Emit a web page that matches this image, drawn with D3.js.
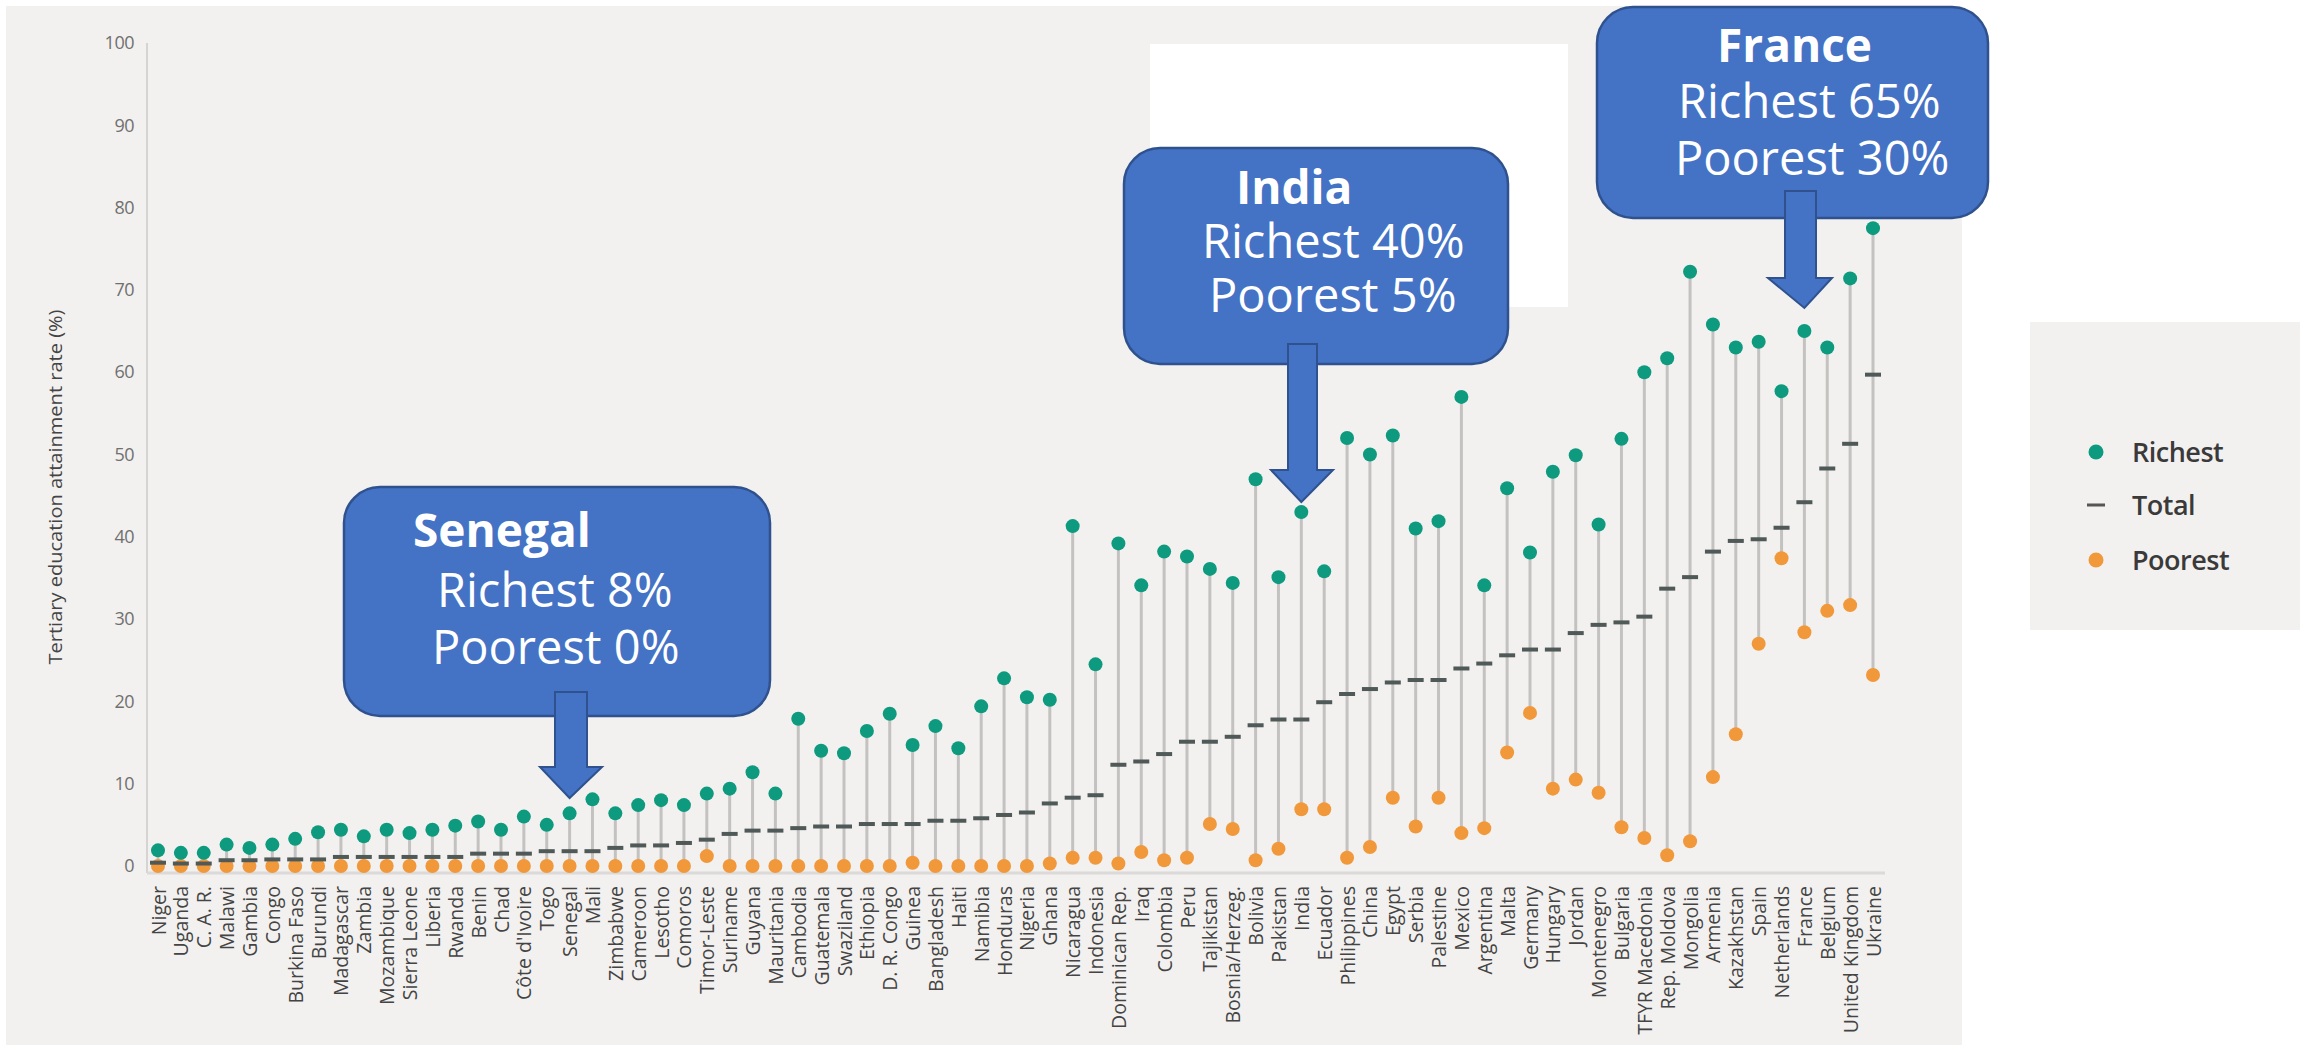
<!DOCTYPE html>
<html>
<head>
<meta charset="utf-8">
<script src="https://cdn.jsdelivr.net/npm/d3@7"></script>
<style>
  html, body { margin: 0; padding: 0; background: #ffffff; }
  svg { display: block; }
</style>
</head>
<body>
<svg id="chart" width="2313" height="1046"></svg>
<script>
const countries = ["Niger","Uganda","C. A. R.","Malawi","Gambia","Congo","Burkina Faso","Burundi","Madagascar","Zambia","Mozambique","Sierra Leone","Liberia","Rwanda","Benin","Chad","Côte d'Ivoire","Togo","Senegal","Mali","Zimbabwe","Cameroon","Lesotho","Comoros","Timor-Leste","Suriname","Guyana","Mauritania","Cambodia","Guatemala","Swaziland","Ethiopia","D. R. Congo","Guinea","Bangladesh","Haiti","Namibia","Honduras","Nigeria","Ghana","Nicaragua","Indonesia","Dominican Rep.","Iraq","Colombia","Peru","Tajikistan","Bosnia/Herzeg.","Bolivia","Pakistan","India","Ecuador","Philippines","China","Egypt","Serbia","Palestine","Mexico","Argentina","Malta","Germany","Hungary","Jordan","Montenegro","Bulgaria","TFYR Macedonia","Rep. Moldova","Mongolia","Armenia","Kazakhstan","Spain","Netherlands","France","Belgium","United Kingdom","Ukraine"];

const richest = [1.9,1.6,1.6,2.6,2.2,2.6,3.3,4.1,4.4,3.6,4.4,4.0,4.4,4.9,5.4,4.4,6.0,5.0,6.4,8.1,6.4,7.4,8.0,7.4,8.8,9.4,11.4,8.8,17.9,14.0,13.7,16.4,18.5,14.7,17.0,14.3,19.4,22.8,20.5,20.2,41.3,24.5,39.2,34.1,38.2,37.6,36.1,34.4,47.0,35.1,43.0,35.8,52.0,50.0,52.3,41.0,41.9,57.0,34.1,45.9,38.1,47.9,49.9,41.5,51.9,60.0,61.7,72.2,65.8,63.0,63.7,57.7,65.0,63.0,71.4,77.5];

const total = [0.4,0.3,0.3,0.7,0.7,0.8,0.8,0.8,1.1,1.1,1.1,1.1,1.1,1.1,1.5,1.5,1.5,1.8,1.8,1.8,2.2,2.5,2.5,2.8,3.2,3.9,4.3,4.3,4.6,4.8,4.8,5.1,5.1,5.1,5.5,5.5,5.8,6.2,6.5,7.6,8.3,8.6,12.3,12.7,13.6,15.1,15.1,15.7,17.1,17.8,17.8,19.9,20.9,21.5,22.3,22.6,22.6,24.0,24.6,25.6,26.3,26.3,28.3,29.3,29.6,30.3,33.7,35.1,38.2,39.5,39.7,41.1,44.2,48.3,51.3,59.7];

const poorest = [0,0,0,0,0,0,0,0,0,0,0,0,0,0,0,0,0,0,0,0,0,0,0,0,1.2,0,0,0,0,0,0,0,0,0.4,0,0,0,0,0,0.3,1.0,1.0,0.3,1.7,0.7,1.0,5.1,4.5,0.7,2.1,6.9,6.9,1.0,2.3,8.3,4.8,8.3,4.0,4.6,13.8,18.6,9.4,10.5,8.9,4.7,3.4,1.3,3.0,10.8,16.0,27.0,37.4,28.4,31.0,31.7,23.2];

const yTicks = [0,10,20,30,40,50,60,70,80,90,100];
const yTitle = "Tertiary education attainment rate (%)";
const legendLabels = ["Richest","Total","Poorest"];

const callouts = [
  {country: "Senegal", title: "Senegal", lines: ["Richest 8%", "Poorest 0%"]},
  {country: "India", title: "India", lines: ["Richest 40%", "Poorest 5%"]},
  {country: "France", title: "France", lines: ["Richest 65%", "Poorest 30%"]}
];

const data = countries.map((c, i) => ({country: c, richest: richest[i], total: total[i], poorest: poorest[i]}));

const svg = d3.select("#chart");
const W = 2313, H = 1046;

const teal = "#0d9a7e", orange = "#f1983b", stemColor = "#c4c2c0", dashColor = "#4f5957";
const panelFill = "#f2f1ef";

// main panel background
svg.append("rect").attr("x", 6).attr("y", 6).attr("width", 1956).attr("height", 1039).attr("fill", panelFill);

const x = d3.scalePoint().domain(countries).range([158, 1873]).padding(0);
const y = d3.scaleLinear().domain([0, 100]).range([866, 43]);

// axes lines
svg.append("line").attr("x1", 147).attr("x2", 147).attr("y1", y(100)).attr("y2", 873)
  .attr("stroke", "#d6d4d2").attr("stroke-width", 2);
svg.append("line").attr("x1", 147).attr("x2", 1885).attr("y1", 873).attr("y2", 873)
  .attr("stroke", "#dcdad8").attr("stroke-width", 3);

// y axis
const yAxis = d3.axisLeft(y).tickValues(yTicks).tickSize(0).tickPadding(0).tickFormat(d3.format("d"));
const gy = svg.append("g").attr("transform", "translate(134,0)").call(yAxis);
gy.select(".domain").remove();
gy.selectAll("text").attr("font-family", "Open Sans, sans-serif").attr("font-size", 18)
  .attr("fill", "#707070").attr("letter-spacing", -0.5);

// y title
svg.append("text")
  .attr("transform", `translate(62,487) rotate(-90)`)
  .attr("text-anchor", "middle")
  .attr("font-family", "Open Sans, sans-serif")
  .attr("font-size", 19)
  .attr("fill", "#444")
  .attr("textLength", 355)
  .attr("lengthAdjust", "spacingAndGlyphs")
  .text(yTitle);

// x axis labels
const xAxis = d3.axisBottom(x).tickSize(0).tickPadding(0);
const gx = svg.append("g").attr("transform", "translate(0,886)").call(xAxis);
gx.select(".domain").remove();
gx.selectAll("text")
  .attr("font-family", "Open Sans, sans-serif").attr("font-size", 19.5).attr("fill", "#444")
  .attr("text-anchor", "end")
  .attr("transform", "rotate(-90)")
  .attr("x", 0).attr("y", 0).attr("dy", "0.36em");

// stems
svg.append("g").selectAll("line").data(data).join("line")
  .attr("x1", d => x(d.country)).attr("x2", d => x(d.country))
  .attr("y1", d => y(d.poorest)).attr("y2", d => y(d.richest))
  .attr("stroke", stemColor).attr("stroke-width", 3);

// poorest
svg.append("g").selectAll("circle").data(data).join("circle")
  .attr("cx", d => x(d.country)).attr("cy", d => y(d.poorest)).attr("r", 7)
  .attr("fill", orange);

// richest
svg.append("g").selectAll("circle").data(data).join("circle")
  .attr("cx", d => x(d.country)).attr("cy", d => y(d.richest)).attr("r", 7)
  .attr("fill", teal);

// total dashes
svg.append("g").selectAll("rect").data(data).join("rect")
  .attr("x", d => x(d.country) - 8).attr("y", d => y(d.total) - 2)
  .attr("width", 16).attr("height", 4)
  .attr("fill", dashColor);

// legend
const lg = svg.append("g");
lg.append("rect").attr("x", 2030).attr("y", 322).attr("width", 270).attr("height", 308).attr("fill", panelFill);
const ly = [452, 505, 560];
lg.append("circle").attr("cx", 2096).attr("cy", ly[0]).attr("r", 7.5).attr("fill", teal);
lg.append("rect").attr("x", 2087).attr("y", ly[1] - 1.5).attr("width", 18).attr("height", 3).attr("fill", "#555");
lg.append("circle").attr("cx", 2096).attr("cy", ly[2]).attr("r", 7.5).attr("fill", orange);
lg.selectAll("text").data(legendLabels).join("text")
  .attr("x", 2132).attr("y", (d, i) => ly[i] + 10)
  .attr("font-family", "Open Sans, sans-serif").attr("font-size", 27).attr("font-weight", 600)
  .attr("fill", "#3a3a3a").attr("letter-spacing", -0.5)
  .text(d => d);

// white patch behind India callout
svg.append("rect").attr("x", 1150).attr("y", 44).attr("width", 418).attr("height", 263).attr("fill", "#ffffff");

// callouts
const boxGeom = {
  "Senegal": {x0: 344, y0: 487, x1: 770, y1: 716, titleX: 413, lineX: [437, 432], base: [547, 607, 664],
              shaftX: [555, 587], shaftTop: 692, headY: 767, headX: [540, 602], tipY: 798},
  "India":   {x0: 1124, y0: 148, x1: 1508, y1: 364, titleX: 1236, lineX: [1202, 1209], base: [204, 258, 312],
              shaftX: [1288, 1317], shaftTop: 344, headY: 470, headX: [1271, 1333], tipY: 502},
  "France":  {x0: 1597, y0: 7, x1: 1988, y1: 218, titleX: 1717, lineX: [1678, 1675], base: [62, 118, 175],
              shaftX: [1785, 1816], shaftTop: 191, headY: 278, headX: [1768, 1832], tipY: 308}
};
const blue = "#4472c4", blueEdge = "#2f528f";
callouts.forEach(c => {
  const g = boxGeom[c.country];
  const cg = svg.append("g");
  cg.append("rect").attr("x", g.x0).attr("y", g.y0).attr("width", g.x1 - g.x0).attr("height", g.y1 - g.y0)
    .attr("rx", 36).attr("ry", 36).attr("fill", blue).attr("stroke", blueEdge).attr("stroke-width", 2.5);
  cg.append("text").attr("x", g.titleX).attr("y", g.base[0])
    .attr("font-family", "Open Sans, sans-serif").attr("font-size", 46).attr("font-weight", 700)
    .attr("fill", "#ffffff").text(c.title);
  c.lines.forEach((t, i) => {
    cg.append("text").attr("x", g.lineX[i]).attr("y", g.base[i + 1])
      .attr("font-family", "Open Sans, sans-serif").attr("font-size", 47)
      .attr("fill", "#ffffff").text(t);
  });
  const tipX = x(c.country);
  const pts = [
    [g.shaftX[0], g.shaftTop], [g.shaftX[1], g.shaftTop], [g.shaftX[1], g.headY],
    [g.headX[1], g.headY], [tipX, g.tipY], [g.headX[0], g.headY], [g.shaftX[0], g.headY]
  ];
  cg.append("path").attr("d", d3.line()(pts) + "Z")
    .attr("fill", blue).attr("stroke", blueEdge).attr("stroke-width", 2);
});
</script>
</body>
</html>
